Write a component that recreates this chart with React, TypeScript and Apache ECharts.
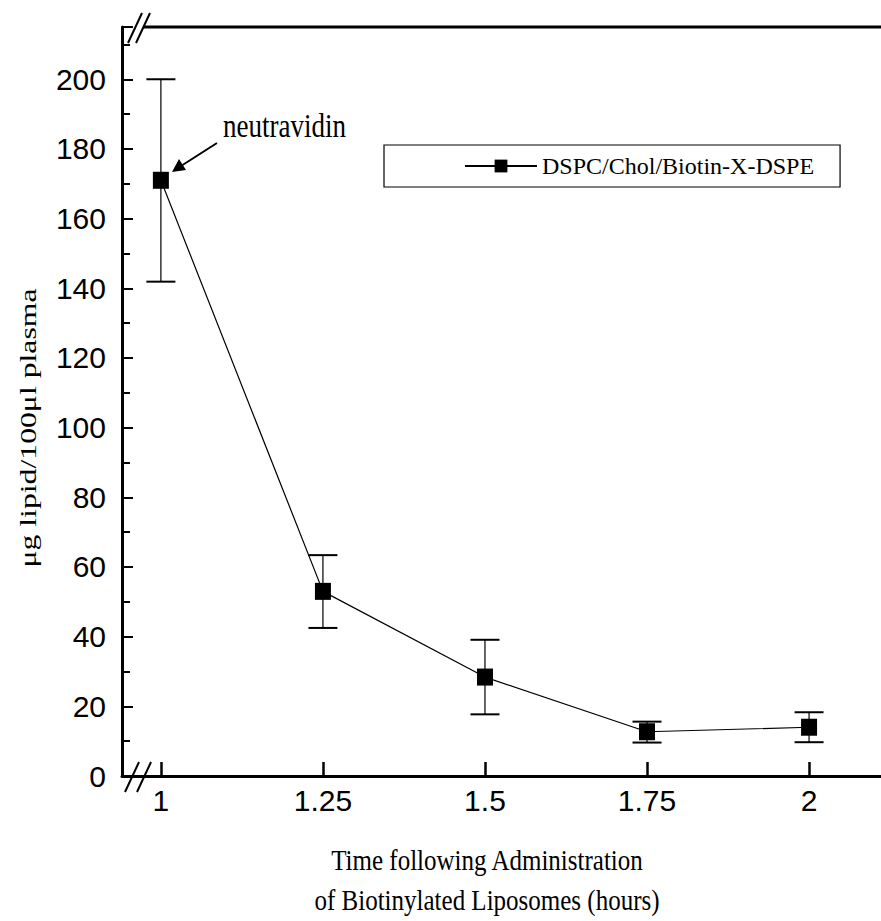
import React, { useEffect, useRef } from "react";
import * as echarts from "echarts";

const times = [1, 1.25, 1.5, 1.75, 2];
const lipid = [171, 53, 28.4, 12.7, 14];
const errLow = [141.9, 42.5, 17.7, 9.6, 9.7];
const errHigh = [200, 63.4, 39.1, 15.6, 18.3];
const xTickLabels = ["1", "1.25", "1.5", "1.75", "2"];
const seriesName = "DSPC/Chol/Biotin-X-DSPE";
const yTitle = "μg lipid/100μl plasma";
const xTitle1 = "Time following Administration";
const xTitle2 = "of Biotinylated Liposomes (hours)";
const annotation = "neutravidin";

export default function App() {
  const ref = useRef<HTMLDivElement>(null);
  useEffect(() => {
    if (!ref.current) return;
    const chart = echarts.init(ref.current, null, { renderer: "svg" });
    const sans = "Liberation Sans";
    const serif = "Liberation Serif";
    const lineData = times.map((t, i) => [t, lipid[i]]);
    const errData = times.map((t, i) => [t, errLow[i], errHigh[i]]);
    chart.setOption({
      animation: false,
      backgroundColor: "#fff",
      grid: { left: 122, top: 27, right: 0, bottom: 145, containLabel: false },
      legend: {
        show: true,
        data: [seriesName],
        left: 384,
        top: 145,
        orient: "horizontal",
        borderColor: "#000",
        borderWidth: 1.2,
        padding: [9, 26, 9, 80],
        itemWidth: 72,
        itemHeight: 16,
        itemGap: 6,
        textStyle: { fontFamily: serif, fontSize: 24, color: "#000" },
      },
      xAxis: {
        type: "value",
        min: 0.94,
        max: 2.111,
        axisLine: { show: true, onZero: false, lineStyle: { color: "#000", width: 3 } },
        axisTick: {
          show: true,
          inside: true,
          length: 14,
          customValues: times,
          lineStyle: { color: "#000", width: 2.5 },
        },
        axisLabel: {
          show: true,
          customValues: times,
          formatter: (v: number) => {
            const i = times.indexOf(v);
            return i >= 0 ? xTickLabels[i] : "";
          },
          margin: 9,
          fontFamily: sans,
          fontSize: 30,
          color: "#000",
        },
        splitLine: { show: false },
      },
      yAxis: [
        {
          type: "value",
          min: 0,
          max: 215,
          interval: 20,
          axisLine: { show: true, onZero: false, lineStyle: { color: "#000", width: 3 } },
          axisTick: { show: true, inside: true, length: 11, lineStyle: { color: "#000", width: 2 } },
          axisLabel: {
            show: true,
            formatter: (v: number) => (v > 200 ? "" : String(v)),
            margin: 16,
            fontFamily: sans,
            fontSize: 30,
            color: "#000",
          },
          splitLine: { show: false },
        },
        {
          type: "value",
          min: 0,
          max: 215,
          interval: 10,
          position: "left",
          axisLine: { show: false },
          axisTick: { show: true, inside: true, length: 8, lineStyle: { color: "#000", width: 2 } },
          axisLabel: { show: false },
          splitLine: { show: false },
        },
      ],
      series: [
        {
          name: seriesName,
          type: "line",
          data: lineData,
          symbol: "rect",
          symbolSize: [16, 17],
          itemStyle: { color: "#000" },
          lineStyle: { color: "#000", width: 1.2 },
          z: 3,
        },
        {
          name: "err",
          type: "custom",
          data: errData,
          encode: { x: 0, y: [1, 2] },
          renderItem: (params: any, api: any) => {
            const x = api.value(0);
            const lo = api.coord([x, api.value(1)]);
            const hi = api.coord([x, api.value(2)]);
            const hw = 14.5;
            const st = { stroke: "#000", lineWidth: 1.2 };
            const cap = { stroke: "#000", lineWidth: 2 };
            return {
              type: "group",
              children: [
                { type: "line", shape: { x1: hi[0], y1: hi[1], x2: lo[0], y2: lo[1] }, style: st },
                { type: "line", shape: { x1: hi[0] - hw, y1: hi[1], x2: hi[0] + hw, y2: hi[1] }, style: cap },
                { type: "line", shape: { x1: lo[0] - hw, y1: lo[1], x2: lo[0] + hw, y2: lo[1] }, style: cap },
              ],
            };
          },
          z: 2,
        },
      ],
      graphic: [
        { type: "line", shape: { x1: 143, y1: 27, x2: 881, y2: 27 }, style: { stroke: "#000", lineWidth: 3 } },
        { type: "line", shape: { x1: 128, y1: 43, x2: 142, y2: 13 }, style: { stroke: "#000", lineWidth: 2 } },
        { type: "line", shape: { x1: 136, y1: 43, x2: 150, y2: 13 }, style: { stroke: "#000", lineWidth: 2 } },
        { type: "line", shape: { x1: 125, y1: 792, x2: 139, y2: 762 }, style: { stroke: "#000", lineWidth: 2 } },
        { type: "line", shape: { x1: 137, y1: 792, x2: 151, y2: 762 }, style: { stroke: "#000", lineWidth: 2 } },
        { type: "line", shape: { x1: 217, y1: 143, x2: 181, y2: 166 }, style: { stroke: "#000", lineWidth: 2 } },
        {
          type: "polygon",
          shape: { points: [[172, 172], [179, 159], [186, 170]] },
          style: { fill: "#000" },
        },
        {
          type: "text",
          x: 223,
          y: 126,
          scaleY: 1.25,
          style: {
            text: annotation,
            fontFamily: serif,
            fontSize: 27,
            fill: "#000",
            align: "left",
            verticalAlign: "middle",
          },
        },
        {
          type: "text",
          x: 28,
          y: 428,
          rotation: Math.PI / 2,
          scaleX: 1.38,
          style: {
            text: yTitle,
            fontFamily: serif,
            fontSize: 23,
            fill: "#000",
            align: "center",
            verticalAlign: "middle",
          },
        },
        {
          type: "text",
          x: 487,
          y: 860,
          scaleY: 1.15,
          style: { text: xTitle1, fontFamily: serif, fontSize: 25, fill: "#000", align: "center", verticalAlign: "middle" },
        },
        {
          type: "text",
          x: 487,
          y: 900,
          scaleY: 1.15,
          style: { text: xTitle2, fontFamily: serif, fontSize: 25, fill: "#000", align: "center", verticalAlign: "middle" },
        },
      ],
    });
    return () => chart.dispose();
  }, []);
  return (
    <div
      ref={ref}
      style={{ position: "fixed", left: 0, top: 0, width: 881, height: 921, background: "#fff" }}
    />
  );
}
